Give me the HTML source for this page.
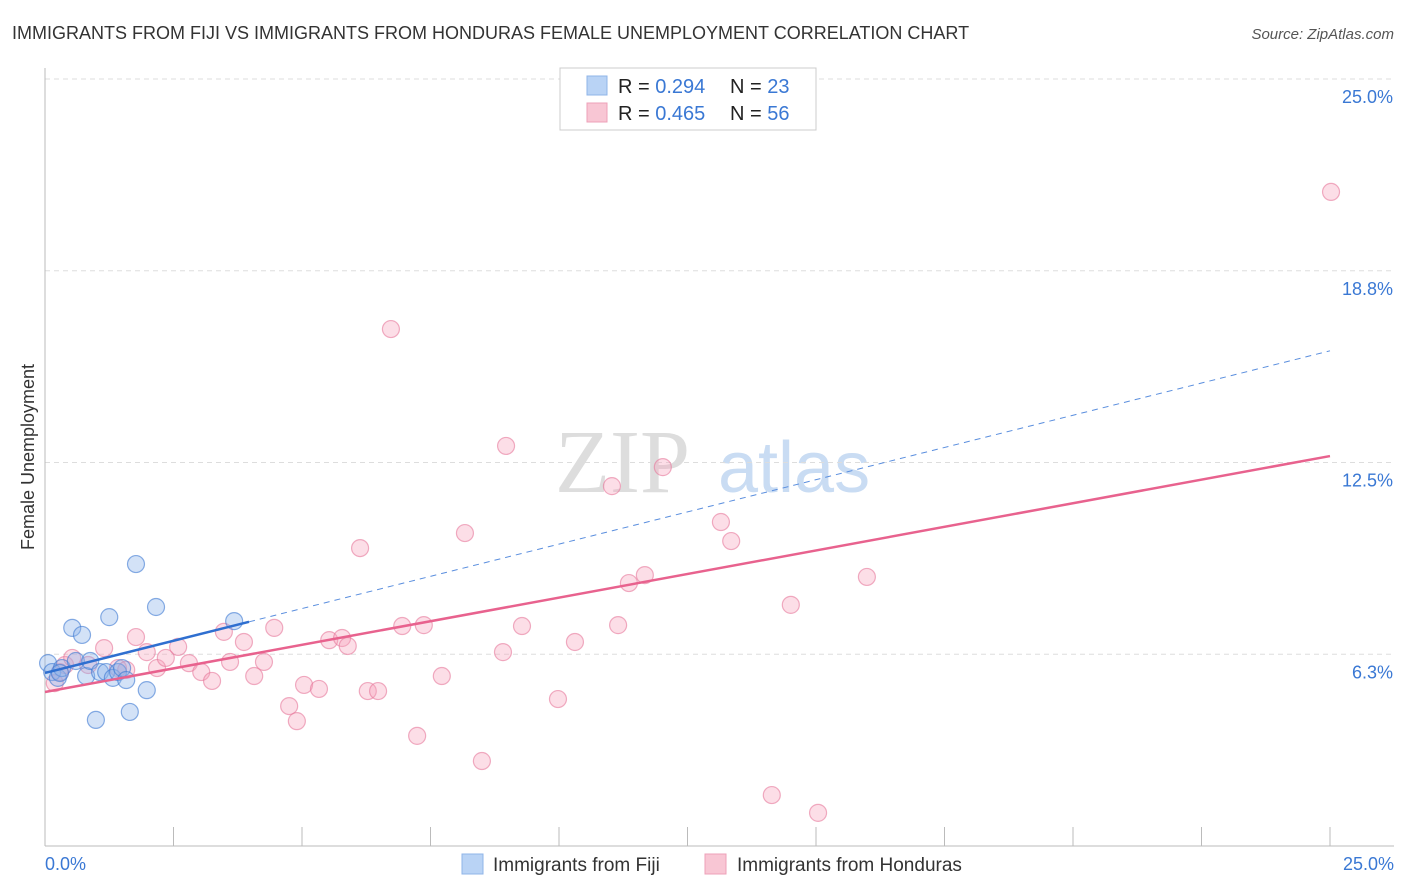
<!DOCTYPE html>
<html><head><meta charset="utf-8">
<style>
body{margin:0;background:#fff;font-family:"Liberation Sans",sans-serif;}
svg{display:block}
</style></head>
<body>
<svg id="chart" width="1406" height="892" xmlns="http://www.w3.org/2000/svg">
<text x="12" y="39" font-size="18" fill="#333">IMMIGRANTS FROM FIJI VS IMMIGRANTS FROM HONDURAS FEMALE UNEMPLOYMENT CORRELATION CHART</text>
<text x="1394" y="39" font-size="15" fill="#555" font-style="italic" text-anchor="end">Source: ZipAtlas.com</text>
<text x="555" y="492" font-size="90" fill="#ddd" font-family="Liberation Serif,serif">ZIP</text>
<text x="718" y="492" font-size="72" fill="#c9dcf3">atlas</text>
<text transform="translate(34,457) rotate(-90)" font-size="18" fill="#333" text-anchor="middle">Female Unemployment</text>
<g id="grid"></g><g id="axes"></g><g id="pts"></g><g id="lines"></g>
<g>
<rect x="560" y="68" width="256" height="62" fill="#fff" stroke="#ccc"/>
<rect x="587" y="76" width="20" height="19" fill="#b9d3f5" stroke="#8fb4e8"/>
<rect x="587" y="103" width="20" height="19" fill="#f8c6d4" stroke="#eea0b8"/>
<text x="618" y="93" font-size="20" fill="#222">R = <tspan fill="#3a78d4">0.294</tspan><tspan x="730">N = </tspan><tspan fill="#3a78d4">23</tspan></text>
<text x="618" y="120" font-size="20" fill="#222">R = <tspan fill="#3a78d4">0.465</tspan><tspan x="730">N = </tspan><tspan fill="#3a78d4">56</tspan></text>
</g>
<g>
<rect x="462" y="854" width="21" height="20" fill="#b9d3f5" stroke="#8fb4e8"/>
<text x="493" y="871" font-size="19" fill="#333">Immigrants from Fiji</text>
<rect x="705" y="854" width="21" height="20" fill="#f8c6d4" stroke="#eea0b8"/>
<text x="737" y="871" font-size="19" fill="#333">Immigrants from Honduras</text>
</g>
</svg>
<script>
const yTicks=[6.25,12.5,18.75,25];
const yTickLabels=["6.3%","12.5%","18.8%","25.0%"];
const xTickLabels=["0.0%","25.0%"];
const fijiX=[0.06,0.14,0.25,0.33,0.53,0.60,0.72,0.80,0.88,0.99,1.07,1.19,1.25,1.32,1.42,1.50,1.58,1.65,1.77,1.98,2.16,3.68,0.29];
const fijiY=[5.96,5.67,5.48,5.80,7.11,6.03,6.88,5.54,6.03,4.11,5.67,5.67,7.46,5.48,5.67,5.80,5.41,4.37,9.19,5.08,7.79,7.33,5.64];
const honX=[0.19,0.29,0.39,0.53,0.84,1.15,1.42,1.58,1.77,1.98,2.18,2.35,2.59,2.80,3.04,3.25,3.48,3.60,3.87,4.07,4.26,4.46,4.75,4.90,5.04,5.33,5.53,5.78,5.89,6.13,6.28,6.48,6.73,6.95,7.24,7.37,7.72,8.17,8.50,8.91,8.97,9.28,9.98,10.31,11.03,11.15,11.36,11.67,12.02,13.15,13.35,14.14,14.51,15.04,15.99,25.02];
const honY=[5.31,5.67,5.90,6.13,5.90,6.45,5.80,5.74,6.81,6.32,5.80,6.13,6.49,5.96,5.67,5.38,6.98,6.00,6.65,5.54,6.00,7.11,4.56,4.07,5.25,5.12,6.71,6.78,6.52,9.71,5.05,5.05,16.85,7.17,3.59,7.20,5.54,10.20,2.77,6.32,13.04,7.17,4.79,6.65,11.73,7.20,8.57,8.83,12.35,10.56,9.94,1.66,7.86,1.08,8.77,21.32];
const fijiLine=[5.64,0.42]; // intercept, slope
const honLine=[5.02,0.3076];
const fijiSolidEnd=3.97;

const X=v=>45+v/25*1285, Y=v=>846-v*30.68;
const NS="http://www.w3.org/2000/svg";
function mk(parent,tag,attrs){const e=document.createElementNS(NS,tag);for(const k in attrs)e.setAttribute(k,attrs[k]);document.getElementById(parent).appendChild(e);return e;}
yTicks.forEach((t,i)=>{
  const g=mk('grid','line',{x1:45,x2:1394,y1:Y(t),y2:Y(t),stroke:'#ddd','stroke-dasharray':'5,4'});
  
  
  const l=mk('grid','text',{x:1393,y:Y(t)+24,'font-size':18,fill:'#3a78d4','text-anchor':'end'});
  l.textContent=yTickLabels[i];
  
  
});
const ax=mk('axes','line',{x1:45,x2:45,y1:68,y2:846,stroke:'#bbb'});


const bx=mk('axes','line',{x1:45,x2:1394,y1:846,y2:846,stroke:'#bbb'});


for(let i=0;i<=10;i++){
  const t=mk('axes','line',{x1:X(i*2.5),x2:X(i*2.5),y1:827,y2:846,stroke:'#bbb'});
  
  
}
[[0,'start',45],[25,'end',1394]].forEach((d,i)=>{
  const l=mk('axes','text',{x:d[2],y:870,'font-size':18,fill:'#3a78d4','text-anchor':d[1]});
  l.textContent=xTickLabels[i];
  
  
});
honX.forEach((v,i)=>{
  const c=mk('pts','circle',{cx:X(v),cy:Y(honY[i]),r:8.5,fill:'rgba(245,160,185,0.35)',stroke:'rgba(230,120,155,0.6)','stroke-width':1.2});
  
  
});
fijiX.forEach((v,i)=>{
  const c=mk('pts','circle',{cx:X(v),cy:Y(fijiY[i]),r:8.5,fill:'rgba(140,180,235,0.38)',stroke:'rgba(60,120,210,0.6)','stroke-width':1.2});
  
  
});
const f=x=>fijiLine[0]+fijiLine[1]*x, h=x=>honLine[0]+honLine[1]*x;
const l1=mk('lines','line',{x1:X(0),y1:Y(f(0)),x2:X(fijiSolidEnd),y2:Y(f(fijiSolidEnd)),stroke:'#2f6fd0','stroke-width':2.5});


const l2=mk('lines','line',{x1:X(fijiSolidEnd),y1:Y(f(fijiSolidEnd)),x2:X(25),y2:Y(f(25)),stroke:'#5a8ede','stroke-width':1,'stroke-dasharray':'6,5'});


const l3=mk('lines','line',{x1:X(0),y1:Y(h(0)),x2:X(25),y2:Y(h(25)),stroke:'#e8628e','stroke-width':2.5});


</script>
</body></html>
